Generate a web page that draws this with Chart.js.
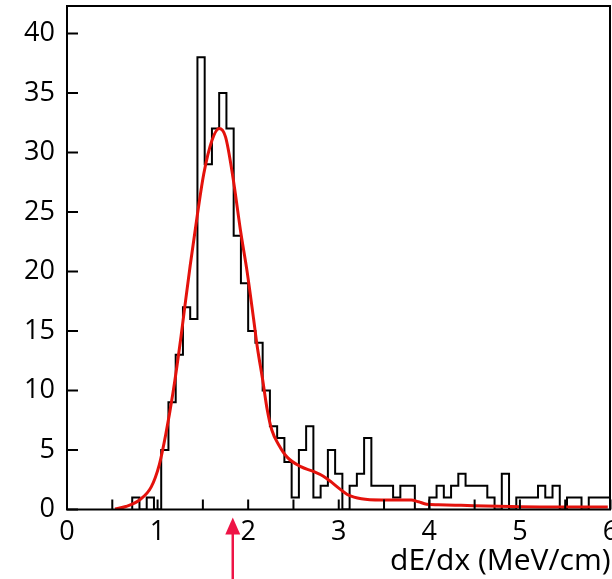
<!DOCTYPE html>
<html lang="en">

<head>
    <meta charset="UTF-8">
    <title>dE/dx</title>
    <script src="https://cdn.jsdelivr.net/npm/chart.js"></script>
    <style>
        html, body { margin: 0; padding: 0; background: #fff; overflow: hidden; }
        .grafico { width: 612px; height: 579px; overflow: hidden; }
    </style>
</head>

<body>
    <div class="grafico">
        <canvas id="graficoDedx" width="612" height="579"></canvas>
    </div>

<script>
    // histogram: first bin edge, bin width, counts per bin
    const binStart = 0.72;
    const binWidth = 0.08;
    const counts = [1, 0, 1, 0, 5, 9, 13, 17, 16, 38, 29, 32, 35, 32, 23, 19, 15, 14, 10, 7,
        6, 4, 1, 5, 7, 1, 2, 5, 3, 0, 2, 3, 6, 2, 2, 2, 1, 2, 2, 0,
        0, 1, 2, 1, 2, 3, 2, 2, 2, 1, 0, 3, 0, 1, 1, 1, 2, 1, 2, 0,
        1, 1, 0, 1, 1, 1];

    // fitted curve
    const fitX = [0.53, 0.65, 0.80, 0.93, 1.02, 1.09, 1.17, 1.26, 1.30, 1.36, 1.44, 1.51, 1.60, 1.68,
        1.75, 1.83, 1.92, 1.99, 2.06, 2.10, 2.16, 2.21, 2.26, 2.34, 2.43, 2.58, 2.72, 2.83, 2.92,
        3.00, 3.11, 3.25, 3.47, 3.69, 3.80, 3.88, 3.97, 4.10, 4.35, 4.90, 5.45, 5.97];
    const fitY = [0.05, 0.25, 0.8, 1.9, 3.8, 6.3, 9.8, 14.6, 17.0, 20.5, 24.8, 28.2, 31.0, 32.0,
        31.3, 28.0, 23.2, 19.9, 16.0, 13.7, 10.9, 8.4, 6.7, 5.4, 4.4, 3.6, 3.2, 2.8, 2.3,
        1.8, 1.2, 0.9, 0.8, 0.8, 0.8, 0.65, 0.45, 0.4, 0.35, 0.25, 0.2, 0.2];

    const xTicks = [0, 0.5, 1, 1.5, 2, 2.5, 3, 3.5, 4, 4.5, 5, 5.5, 6];
    const xLabels = [0, 1, 2, 3, 4, 5, 6];
    const yTicks = [0, 5, 10, 15, 20, 25, 30, 35, 40];
    const arrowAt = 1.83;

    // pontos do histograma em degraus
    let pontosHist = [{ x: binStart, y: 0 }];
    for (let i = 0; i < counts.length; i++) {
        pontosHist.push({ x: binStart + i * binWidth, y: counts[i] });
    }
    pontosHist.push({ x: binStart + counts.length * binWidth, y: counts[counts.length - 1] });

    let pontosFit = [];
    for (let i = 0; i < fitX.length; i++) {
        pontosFit.push({ x: fitX[i], y: fitY[i] });
    }

    // moldura, marcas para dentro e a seta
    const molduraPlugin = {
        id: 'moldura',
        afterDraw(chart) {
            const ctx = chart.ctx;
            const a = chart.chartArea;
            const sx = chart.scales.x;
            const sy = chart.scales.y;
            const direita = Math.min(a.right, chart.width - 2);
            ctx.save();
            ctx.strokeStyle = '#000';
            ctx.lineWidth = 2;
            ctx.strokeRect(a.left, a.top, direita - a.left, a.bottom - a.top);
            ctx.beginPath();
            xTicks.forEach(function (v) {
                const px = sx.getPixelForValue(v);
                ctx.moveTo(px, a.bottom);
                ctx.lineTo(px, a.bottom - 10);
            });
            yTicks.forEach(function (v) {
                const py = sy.getPixelForValue(v);
                ctx.moveTo(a.left, py);
                ctx.lineTo(a.left + 11, py);
            });
            ctx.stroke();

            const ax = sx.getPixelForValue(arrowAt);
            ctx.strokeStyle = 'rgb(238, 20, 70)';
            ctx.fillStyle = 'rgb(238, 20, 70)';
            ctx.lineWidth = 2.5;
            ctx.beginPath();
            ctx.moveTo(ax, a.bottom + 24);
            ctx.lineTo(ax, chart.height);
            ctx.stroke();
            ctx.beginPath();
            ctx.moveTo(ax, a.bottom + 8);
            ctx.lineTo(ax - 7.5, a.bottom + 25);
            ctx.lineTo(ax + 7.5, a.bottom + 25);
            ctx.closePath();
            ctx.fill();
            ctx.restore();
        }
    };

    const config = {
        type: 'line',
        data: {
            datasets: [{
                label: 'fit',
                data: pontosFit,
                borderColor: 'rgb(228, 18, 12)',
                borderWidth: 3,
                pointRadius: 0,
                fill: false,
                cubicInterpolationMode: 'monotone'
            },
            {
                label: 'dados',
                data: pontosHist,
                borderColor: 'rgb(0, 0, 0)',
                borderWidth: 2,
                pointRadius: 0,
                fill: false,
                stepped: 'before'
            }]
        },
        options: {
            responsive: false,
            animation: false,
            layout: { padding: { top: 6, left: 0, right: 1.5, bottom: 0 } },
            plugins: {
                legend: { display: false },
                tooltip: { enabled: false }
            },
            scales: {
                x: {
                    type: 'linear',
                    min: 0,
                    max: 6,
                    grid: { display: false, drawTicks: false },
                    border: { display: false },
                    afterBuildTicks: function (scale) {
                        scale.ticks = xLabels.map(function (v) { return { value: v }; });
                    },
                    ticks: {
                        autoSkip: false,
                        maxRotation: 0,
                        padding: 7,
                        color: '#000',
                        font: { family: 'Open Sans', size: 27 }
                    },
                    title: {
                        display: true,
                        text: 'dE/dx (MeV/cm)',
                        align: 'end',
                        color: '#000',
                        font: { family: 'Open Sans', size: 30 },
                        padding: { top: 0, bottom: 0 }
                    },
                    afterFit: function (scale) {
                        scale.height = 69.5;
                        scale.paddingLeft = 0;
                        scale.paddingRight = 0;
                    }
                },
                y: {
                    min: 0,
                    max: 42.3,
                    grid: { display: false, drawTicks: false },
                    border: { display: false },
                    afterBuildTicks: function (scale) {
                        scale.ticks = yTicks.map(function (v) { return { value: v }; });
                    },
                    ticks: {
                        padding: 12,
                        color: '#000',
                        font: { family: 'Open Sans', size: 27 }
                    },
                    afterFit: function (scale) {
                        scale.width = 67;
                        scale.paddingTop = 0;
                        scale.paddingBottom = 0;
                    }
                }
            }
        },
        plugins: [molduraPlugin]
    };

    let chartDedx = new Chart(document.getElementById('graficoDedx'), config);
</script>
</body>

</html>
